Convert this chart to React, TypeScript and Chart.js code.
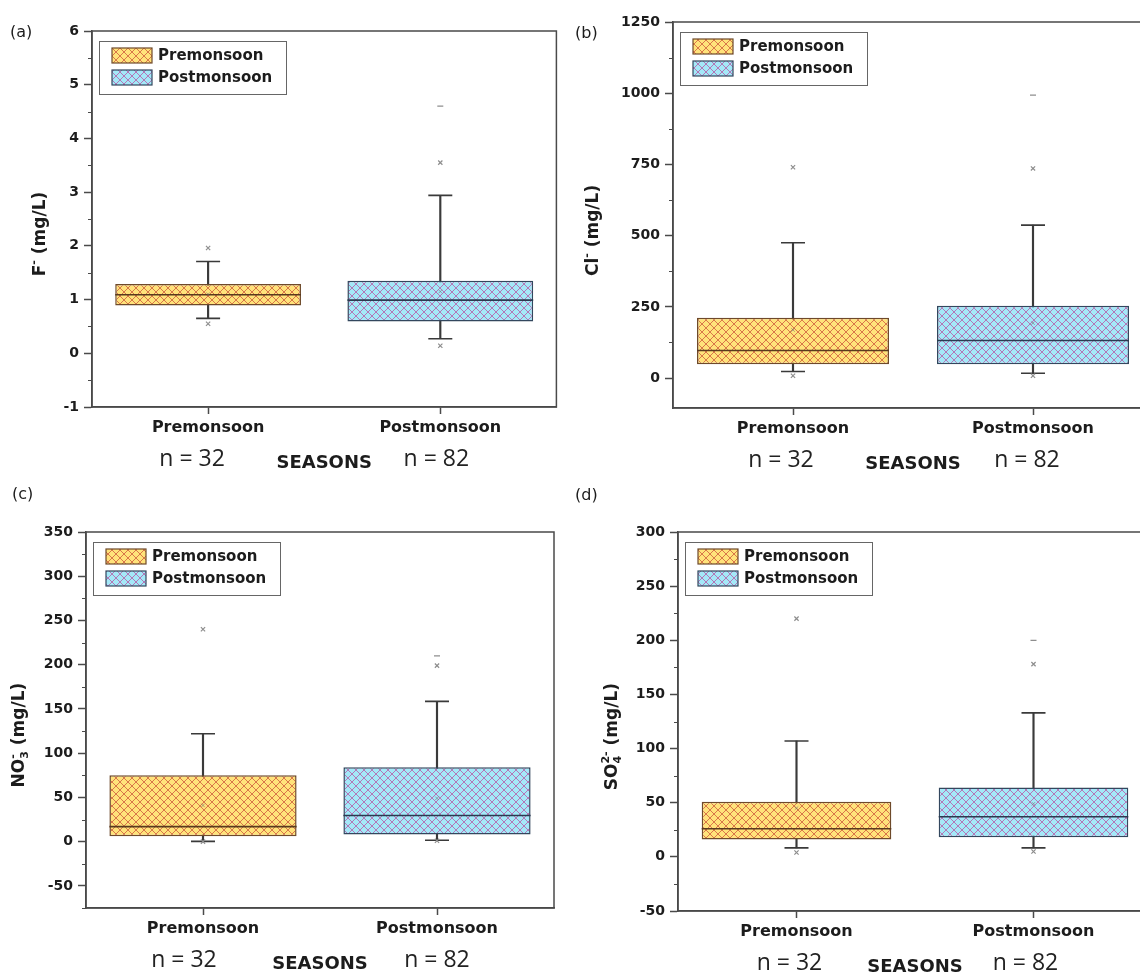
import React, { useEffect, useRef } from 'react';
import { Chart, registerables } from 'chart.js';

Chart.register(...registerables);

// ---------------- data ----------------
const categories = ['Premonsoon', 'Postmonsoon'];
const sampleSizes = ['n = 32', 'n = 82'];
const xAxisTitle = 'SEASONS';
const legendLabels = ['Premonsoon', 'Postmonsoon'];

// (a) Fluoride  [Premonsoon, Postmonsoon]
const fQ1 = [0.89, 0.59];
const fQ3 = [1.29, 1.35];
const fMedian = [1.09, 0.99];
const fWhiskerLow = [0.65, 0.27];
const fWhiskerHigh = [1.71, 2.94];
const fMean = [1.1, 1.15];
const fOutliersPre = [1.96, 0.55];
const fOutliersPost = [3.55, 0.14];
const fExtremesPre: number[] = [];
const fExtremesPost = [4.6];
const fTicks = [-1, 0, 1, 2, 3, 4, 5, 6];

// (b) Chloride
const clQ1 = [49, 49];
const clQ3 = [212, 254];
const clMedian = [97, 132];
const clWhiskerLow = [23, 17];
const clWhiskerHigh = [475, 537];
const clMean = [169, 193];
const clOutliersPre = [740, 8];
const clOutliersPost = [736, 8];
const clExtremesPre: number[] = [];
const clExtremesPost = [993];
const clTicks = [0, 250, 500, 750, 1000, 1250];

// (c) Nitrate
const noQ1 = [6, 8];
const noQ3 = [75, 84];
const noMedian = [17, 29.5];
const noWhiskerLow = [0.3, 1.5];
const noWhiskerHigh = [122, 158.5];
const noMean = [41, 49];
const noOutliersPre = [240, 0];
const noOutliersPost = [199, 1];
const noExtremesPre: number[] = [];
const noExtremesPost = [210];
const noTicks = [-50, 0, 50, 100, 150, 200, 250, 300, 350];

// (d) Sulphate
const soQ1 = [16, 18];
const soQ3 = [51, 64];
const soMedian = [26, 37];
const soWhiskerLow = [8.3, 8.3];
const soWhiskerHigh = [107, 133];
const soMean = [45, 49];
const soOutliersPre = [220, 4];
const soOutliersPost = [178, 5];
const soExtremesPre: number[] = [];
const soExtremesPost = [200];
const soTicks = [-50, 0, 50, 100, 150, 200, 250, 300];

type Seg = { t: string; k: 'b' | 'sub' | 'sup'; stack?: boolean };

const panels = [
  {
    letter: '(a)',
    title: [{ t: 'F', k: 'b' }, { t: '-', k: 'sup' }, { t: ' (mg/L)', k: 'b' }] as Seg[],
    q1: fQ1, q3: fQ3, median: fMedian, wLow: fWhiskerLow, wHigh: fWhiskerHigh, mean: fMean,
    outPre: fOutliersPre, outPost: fOutliersPost, extPre: fExtremesPre, extPost: fExtremesPost,
    yMin: -1, yMax: 6, ticks: fTicks, minorStep: 0.5,
  },
  {
    letter: '(b)',
    title: [{ t: 'Cl', k: 'b' }, { t: '-', k: 'sup' }, { t: ' (mg/L)', k: 'b' }] as Seg[],
    q1: clQ1, q3: clQ3, median: clMedian, wLow: clWhiskerLow, wHigh: clWhiskerHigh, mean: clMean,
    outPre: clOutliersPre, outPost: clOutliersPost, extPre: clExtremesPre, extPost: clExtremesPost,
    yMin: -105, yMax: 1250, ticks: clTicks, minorStep: 125,
  },
  {
    letter: '(c)',
    title: [{ t: 'NO', k: 'b' }, { t: '3', k: 'sub' }, { t: '-', k: 'sup', stack: true }, { t: ' (mg/L)', k: 'b' }] as Seg[],
    q1: noQ1, q3: noQ3, median: noMedian, wLow: noWhiskerLow, wHigh: noWhiskerHigh, mean: noMean,
    outPre: noOutliersPre, outPost: noOutliersPost, extPre: noExtremesPre, extPost: noExtremesPost,
    yMin: -75, yMax: 350, ticks: noTicks, minorStep: 25,
  },
  {
    letter: '(d)',
    title: [{ t: 'SO', k: 'b' }, { t: '4', k: 'sub' }, { t: '2-', k: 'sup', stack: true }, { t: ' (mg/L)', k: 'b' }] as Seg[],
    q1: soQ1, q3: soQ3, median: soMedian, wLow: soWhiskerLow, wHigh: soWhiskerHigh, mean: soMean,
    outPre: soOutliersPre, outPost: soOutliersPost, extPre: soExtremesPre, extPost: soExtremesPost,
    yMin: -50, yMax: 300, ticks: soTicks, minorStep: 25,
  },
];

// ---------------- layout & style ----------------
const layouts = [
  { left: 0, top: 0, width: 570, height: 486, plotLeft: 92, plotTop: 31, plotRight: 558, plotBottom: 407, yTitleX: 41, letterX: 10, letterY: 33, nShift: [-16, -4] },
  { left: 570, top: 0, width: 600, height: 486, plotLeft: 103, plotTop: 22, plotRight: 583, plotBottom: 408, yTitleX: 24, letterX: 5, letterY: 34, nShift: [-12, -6] },
  { left: 0, top: 486, width: 570, height: 487, plotLeft: 86, plotTop: 46, plotRight: 554, plotBottom: 422, yTitleX: 20, letterX: 12, letterY: 9, nShift: [-19, 0] },
  { left: 570, top: 486, width: 600, height: 487, plotLeft: 108, plotTop: 46, plotRight: 582, plotBottom: 425, yTitleX: 43, letterX: 5, letterY: 10, nShift: [-7, -8] },
];

const AXIS = '#4a4a4a';
const TEXT = '#1c1c1c';
const PRE_FILL = '#FFE27A';
const PRE_HATCH = '#D46A44';
const PRE_BORDER = '#6E4A2A';
const PRE_MEDIAN = '#5A3A1E';
const POST_FILL = '#A4E8F8';
const POST_HATCH = '#B46AAE';
const POST_BORDER = '#33475E';
const POST_MEDIAN = '#2A3A50';
const WHISKER = '#3a3a3a';
const MARK = '#8e8e8e';
const BOLD = '"DejaVu Sans", "Liberation Sans", Arial, sans-serif';

function makeHatch(fill: string, line: string): CanvasPattern | string {
  const c = document.createElement('canvas');
  c.width = 8;
  c.height = 8;
  const g = c.getContext('2d');
  if (!g) return fill;
  g.fillStyle = fill;
  g.fillRect(0, 0, 8, 8);
  g.strokeStyle = line;
  g.lineWidth = 0.9;
  g.beginPath();
  g.moveTo(-1, -1);
  g.lineTo(9, 9);
  g.moveTo(-1, 9);
  g.lineTo(9, -1);
  g.stroke();
  return g.createPattern(c, 'repeat') ?? fill;
}

function drawRichVertical(ctx: CanvasRenderingContext2D, segs: Seg[], cx: number, cy: number) {
  const baseFont = `bold 17px ${BOLD}`;
  const smallFont = `bold 11px ${BOLD}`;
  const items: { t: string; k: string; start: number; w: number }[] = [];
  let x = 0;
  let prevStart = 0;
  let prevW = 0;
  segs.forEach((s) => {
    ctx.font = s.k === 'b' ? baseFont : smallFont;
    const w = ctx.measureText(s.t).width;
    let start: number;
    if (s.stack) {
      start = prevStart;
      x = Math.max(prevStart + prevW, start + w);
    } else {
      start = x;
      x += w;
    }
    items.push({ t: s.t, k: s.k, start, w });
    prevStart = start;
    prevW = w;
  });
  const total = x;
  ctx.save();
  ctx.translate(cx, cy);
  ctx.rotate(-Math.PI / 2);
  ctx.fillStyle = TEXT;
  ctx.textBaseline = 'middle';
  ctx.textAlign = 'left';
  items.forEach((it) => {
    ctx.font = it.k === 'b' ? baseFont : smallFont;
    const dy = it.k === 'sup' ? -7 : it.k === 'sub' ? 5 : 0;
    ctx.fillText(it.t, it.start - total / 2, dy);
  });
  ctx.restore();
}

function Panel({ index }: { index: number }) {
  const ref = useRef<HTMLCanvasElement>(null);
  const p = panels[index];
  const L = layouts[index];

  useEffect(() => {
    const canvas = ref.current;
    if (!canvas) return;
    const preHatch = makeHatch(PRE_FILL, PRE_HATCH);
    const postHatch = makeHatch(POST_FILL, POST_HATCH);

    const toPoints = (pre: number[], post: number[]) => [
      ...pre.map((v) => ({ x: categories[0], y: v })),
      ...post.map((v) => ({ x: categories[1], y: v })),
    ];

    const decor = {
      id: 'decor',
      afterDraw(chart: any) {
        const ctx: CanvasRenderingContext2D = chart.ctx;
        const area = chart.chartArea;
        const yScale = chart.scales.y;
        const xScale = chart.scales.x;
        ctx.save();
        // frame
        ctx.strokeStyle = AXIS;
        ctx.lineWidth = 1.5;
        ctx.strokeRect(area.left, area.top, area.right - area.left, area.bottom - area.top);
        // minor ticks
        ctx.lineWidth = 1.2;
        ctx.beginPath();
        const first = Math.ceil(p.yMin / p.minorStep) * p.minorStep;
        for (let v = first; v <= p.yMax + 1e-9; v += p.minorStep) {
          if (p.ticks.some((t) => Math.abs(t - v) < 1e-9)) continue;
          const py = Math.round(yScale.getPixelForValue(v)) + 0.5;
          ctx.moveTo(area.left - 4, py);
          ctx.lineTo(area.left, py);
        }
        ctx.stroke();

        // legend
        const lx = area.left + 7;
        const ly = area.top + 10;
        ctx.fillStyle = '#ffffff';
        ctx.fillRect(lx, ly, 187, 53);
        ctx.strokeStyle = '#666666';
        ctx.lineWidth = 1;
        ctx.strokeRect(lx + 0.5, ly + 0.5, 187, 53);
        const fills = [preHatch, postHatch];
        const borders = [PRE_BORDER, POST_BORDER];
        legendLabels.forEach((lab, i) => {
          const sy = ly + 7 + i * 22;
          ctx.fillStyle = fills[i] as any;
          ctx.fillRect(lx + 13, sy, 40, 15);
          ctx.strokeStyle = borders[i];
          ctx.lineWidth = 1.2;
          ctx.strokeRect(lx + 13, sy, 40, 15);
          ctx.fillStyle = TEXT;
          ctx.font = `bold 15px ${BOLD}`;
          ctx.textBaseline = 'middle';
          ctx.textAlign = 'left';
          ctx.fillText(lab, lx + 59, sy + 8);
        });

        // y title
        drawRichVertical(ctx, p.title, L.yTitleX, area.top + 0.54 * (area.bottom - area.top));

        // panel letter
        ctx.fillStyle = TEXT;
        ctx.font = `16px ${BOLD}`;
        ctx.textAlign = 'left';
        ctx.textBaseline = 'middle';
        ctx.fillText(p.letter, L.letterX, L.letterY);

        // n labels
        ctx.font = '23px "Open Sans", "Noto Sans", sans-serif';
        ctx.textAlign = 'center';
        ctx.fillStyle = '#222222';
        sampleSizes.forEach((n, i) => {
          ctx.fillText(n, xScale.getPixelForValue(i) + L.nShift[i], area.bottom + 52);
        });

        // x title
        ctx.font = `bold 18px ${BOLD}`;
        ctx.fillStyle = TEXT;
        ctx.fillText(xAxisTitle, (area.left + area.right) / 2, area.bottom + 56);
        ctx.restore();
      },
    };

    const chart = new Chart(canvas, {
      type: 'bar',
      data: {
        labels: categories,
        datasets: [
          {
            type: 'bar',
            label: 'box',
            data: categories.map((_, i) => [p.q1[i], p.q3[i]]) as any,
            backgroundColor: [preHatch, postHatch] as any,
            borderColor: [PRE_BORDER, POST_BORDER],
            borderWidth: 1.5,
            borderSkipped: false,
            barPercentage: 0.8,
            categoryPercentage: 1,
            grouped: false,
            order: 3,
          },
          {
            type: 'bar',
            label: 'whisker',
            data: categories.map((_, i) => [p.wLow[i], p.wHigh[i]]) as any,
            backgroundColor: WHISKER,
            borderWidth: 0,
            barThickness: 1.5,
            grouped: false,
            order: 6,
          },
          {
            type: 'line',
            label: 'caps',
            data: toPoints([p.wLow[0], p.wHigh[0]], [p.wLow[1], p.wHigh[1]]) as any,
            showLine: false,
            pointStyle: 'line',
            pointRadius: 12,
            pointBorderWidth: 1.6,
            pointBorderColor: WHISKER,
            order: 5,
          },
          {
            type: 'line',
            label: 'median',
            data: p.median,
            showLine: false,
            pointStyle: 'line',
            pointRadius: (c: any) => {
              const el = c.chart.getDatasetMeta(0).data[c.dataIndex] as any;
              return el && el.width ? el.width / 2 : 0;
            },
            pointBorderWidth: 1.6,
            pointBorderColor: [PRE_MEDIAN, POST_MEDIAN],
            order: 1,
          },
          {
            type: 'line',
            label: 'mean',
            data: p.mean,
            showLine: false,
            pointStyle: 'crossRot',
            pointRadius: 2.5,
            pointBorderWidth: 1,
            pointBorderColor: 'rgba(110,110,110,0.55)',
            order: 0,
          },
          {
            type: 'line',
            label: 'outliers',
            data: toPoints(p.outPre, p.outPost) as any,
            showLine: false,
            pointStyle: 'crossRot',
            pointRadius: 3,
            pointBorderWidth: 1.2,
            pointBorderColor: MARK,
            order: 0,
          },
          {
            type: 'line',
            label: 'extremes',
            data: toPoints(p.extPre, p.extPost) as any,
            showLine: false,
            pointStyle: 'line',
            pointRadius: 3,
            pointBorderWidth: 1.2,
            pointBorderColor: MARK,
            order: 0,
          },
        ] as any,
      },
      options: {
        responsive: false,
        animation: false,
        devicePixelRatio: 1,
        layout: {
          padding: { left: 0, top: L.plotTop, right: L.width - L.plotRight, bottom: 0 },
        },
        plugins: {
          legend: { display: false },
          tooltip: { enabled: false },
        },
        scales: {
          x: {
            type: 'category',
            offset: true,
            grid: {
              display: true,
              drawOnChartArea: false,
              offset: false,
              tickLength: 7,
              tickColor: AXIS,
              tickWidth: 1.5,
            },
            border: { display: true, color: AXIS, width: 1.5 },
            ticks: {
              font: { family: BOLD, weight: 'bold', size: 16 },
              color: TEXT,
              padding: 4,
              maxRotation: 0,
            },
            afterFit: (s: any) => {
              s.height = L.height - L.plotBottom;
            },
          },
          y: {
            type: 'linear',
            min: p.yMin,
            max: p.yMax,
            afterBuildTicks: (s: any) => {
              s.ticks = p.ticks.map((v) => ({ value: v }));
            },
            grid: {
              display: true,
              drawOnChartArea: false,
              tickLength: 8,
              tickColor: AXIS,
              tickWidth: 1.5,
            },
            border: { display: true, color: AXIS, width: 1.5 },
            ticks: {
              font: { family: BOLD, weight: 'bold', size: 14 },
              color: TEXT,
              padding: 5,
              autoSkip: false,
              callback: (v: any) => String(v),
            },
            afterFit: (s: any) => {
              s.width = L.plotLeft;
            },
          },
        },
      } as any,
      plugins: [decor],
    });
    return () => chart.destroy();
  }, [index]);

  return (
    <canvas
      ref={ref}
      width={L.width}
      height={L.height}
      style={{ position: 'absolute', left: L.left, top: L.top, width: L.width, height: L.height }}
    />
  );
}

export default function App() {
  return (
    <div
      style={{
        position: 'fixed',
        left: 0,
        top: 0,
        width: 1140,
        height: 973,
        overflow: 'hidden',
        background: '#ffffff',
      }}
    >
      {panels.map((_, i) => (
        <Panel key={i} index={i} />
      ))}
    </div>
  );
}
